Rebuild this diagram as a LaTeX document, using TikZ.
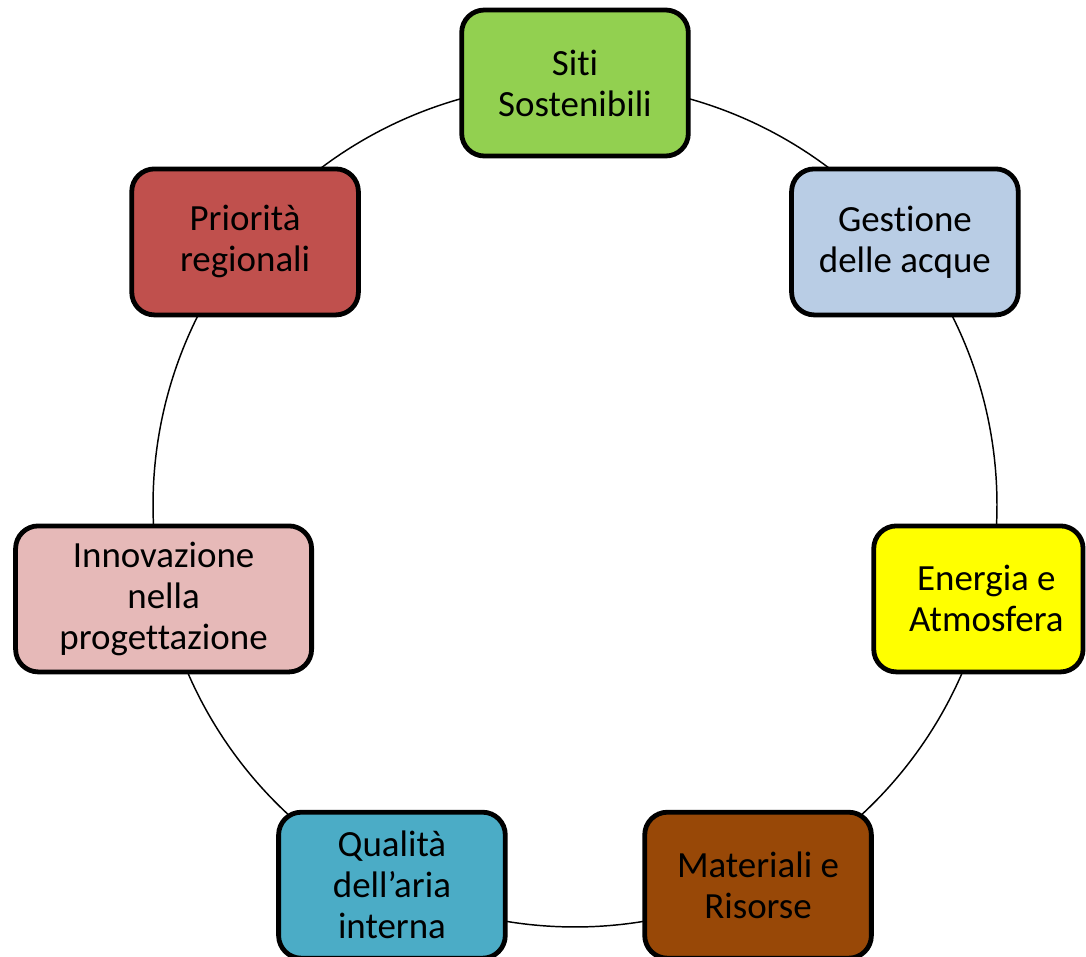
\documentclass[tikz,border=0pt]{standalone}
\usepackage{fontspec}
\setmainfont{Carlito}[Ligatures=NoCommon]
\usepackage{xcolor}
\usetikzlibrary{calc, backgrounds}

\definecolor{sitiGreen}{HTML}{92D050}
\definecolor{acqueBlue}{HTML}{B9CDE5}
\definecolor{energiaYellow}{HTML}{FFFF00}
\definecolor{materialiBrown}{HTML}{984807}
\definecolor{qualitaTeal}{HTML}{4BACC6}
\definecolor{innovazionePink}{HTML}{E6B9B8}
\definecolor{prioritaRed}{HTML}{C0504D}

\tikzset{
  areabox/.style={%
    draw=black,
    line width=3.6pt,
    rounded corners=17pt,
    minimum width=170pt,
    minimum height=109.5pt,
    inner sep=0pt,
    align=center,
    font=\fontsize{27.7}{30.75}\selectfont
  },
  cyclearc/.style={black, line width=1.1pt}
}

\begin{document}
\begin{tikzpicture}[x=0.75pt, y=0.75pt]%
  \useasboundingbox (0,0) rectangle (1086,-957);
  \coordinate (C) at (575,-505);
% points of the cycle
  \foreach \i/\ang in {1/90, 2/38.57, 3/-12.86, 4/-64.29, 5/-115.71, 6/-167.14, 7/141.43}
    \coordinate (P\i) at ($(C)+(\ang:316.5pt)$);
% the seven areas
  \node[areabox, fill=sitiGreen] (siti) at (P1) {Siti\\Sostenibili};
  \node[areabox, fill=acqueBlue] (acque) at (P2) {Gestione\\delle acque};
  \node[areabox, fill=energiaYellow, minimum width=157pt, xshift=-6pt] (energia) at (P3) {\hspace*{12pt}Energia e\\\hspace*{12pt}Atmosfera};
  \node[areabox, fill=materialiBrown] (materiali) at (P4) {Materiali e\\Risorse};
  \node[areabox, fill=qualitaTeal] (qualita) at (P5) {Qualità\\dell’aria\\interna};
  \node[areabox, fill=innovazionePink, minimum width=222pt] (innovazione) at (P6) {Innovazione\\nella\\progettazione};
  \node[areabox, fill=prioritaRed] (priorita) at (P7) {Priorità\\regionali};
% arcs of the cycle, behind the areas
  \begin{scope}[on background layer]
    \foreach \i/\ang in {1/90, 2/38.57, 3/-12.86, 4/-64.29, 5/-115.71, 6/-167.14, 7/141.43}
      \draw[cyclearc] (P\i) arc[start angle=\ang, delta angle=-51.43, radius=316.5pt];
  \end{scope}
\end{tikzpicture}
\end{document}
